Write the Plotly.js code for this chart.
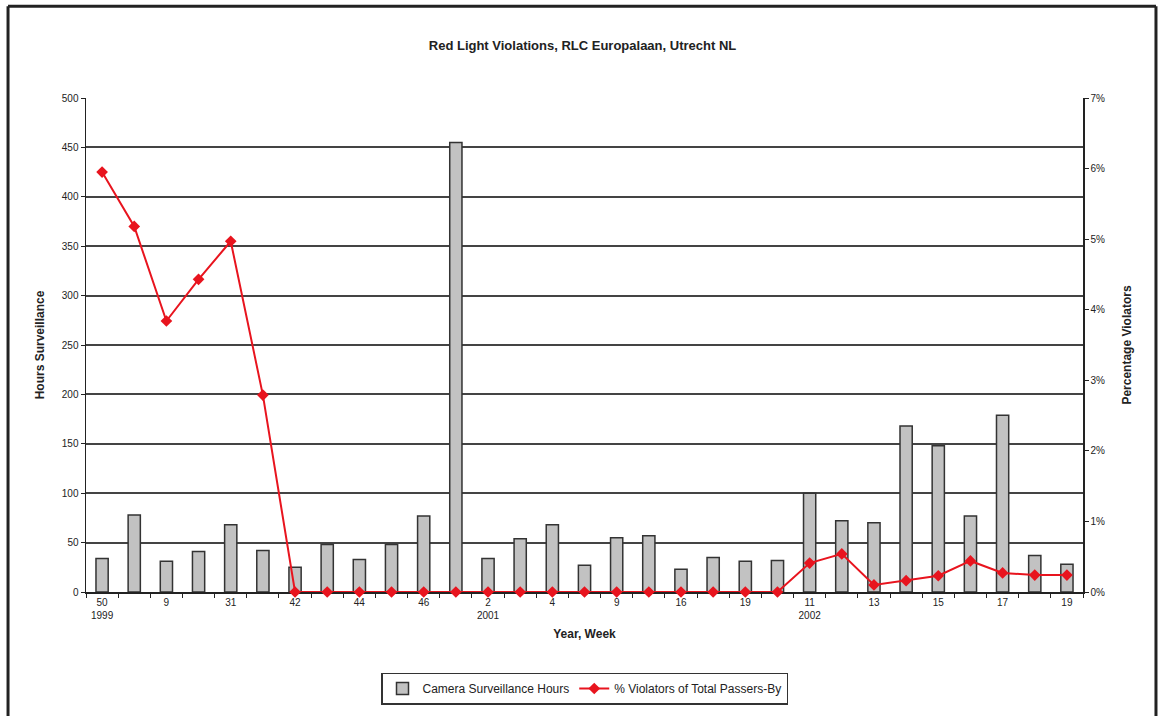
<!DOCTYPE html>
<html>
<head>
<meta charset="utf-8">
<script src="https://cdn.plot.ly/plotly-3.0.1.min.js"></script>
<style>html,body{margin:0;padding:0;background:#fff;}#chart{width:1165px;height:716px;}</style>
</head>
<body>
<div id="chart"></div>
<script>
// Category index (one per surveillance week)
const categories = [0,1,2,3,4,5,6,7,8,9,10,11,12,13,14,15,16,17,18,19,20,21,22,23,24,25,26,27,28,29,30];
// Camera surveillance hours
const hours = [34,78,31,41,68,42,25,48,33,48,77,455,34,54,68,27,55,57,23,35,31,32,100,72,70,168,148,77,179,37,28];
// % violators of total passers-by (fraction)
const violators = [0.0595,0.0518,0.0384,0.0443,0.0497,0.0279,0,0,0,0,0,0,0,0,0,0,0,0,0,0,0,0,0.0041,0.0054,0.0010,0.0016,0.0023,0.0044,0.0027,0.0024,0.0024];
// X tick labels (every other category)
const tickPositions = [0,2,4,6,8,10,12,14,16,18,20,22,24,26,28,30];
const weekLabels = ["50","9","31","42","44","46","2","4","9","16","19","11","13","15","17","19"];
const yearLabels = ["1999","","","","","","2001","","","","","2002","","","",""];

const tickText = weekLabels.map((w,i)=> yearLabels[i] ? w + "<br>" + yearLabels[i] : w);

const font = {family: "Liberation Sans, Arial, sans-serif", color: "#222"};

const traces = [
  {
    type: "bar",
    name: "Camera Surveillance Hours",
    x: categories,
    y: hours,
    width: 0.38,
    marker: {color: "#c2c2c2", line: {color: "#333", width: 1.5}},
    yaxis: "y"
  },
  {
    type: "scatter",
    mode: "lines+markers",
    name: "% Violators of Total Passers-By",
    x: categories,
    y: violators,
    yaxis: "y2",
    cliponaxis: false,
    line: {color: "#e8141e", width: 2},
    marker: {symbol: "diamond", size: 9, color: "#e8141e"}
  }
];

const layout = {
  width: 1165, height: 716,
  margin: {l: 86, r: 82, t: 98, b: 122},
  paper_bgcolor: "#fff", plot_bgcolor: "#fff",
  font: Object.assign({size: 10}, font),
  title: {text: "<b>Red Light Violations, RLC Europalaan, Utrecht NL</b>", x: 0.5, xanchor: "center", y: 0.937, yanchor: "middle", font: Object.assign({}, font, {size: 13})},
  showlegend: true,
  legend: {orientation: "h", x: 0.5, xanchor: "center", y: -0.163, yanchor: "top", bordercolor: "#333", borderwidth: 1.5, font: Object.assign({}, font, {size: 12}), tracegroupgap: 0},
  xaxis: {
    range: [-0.5, 30.5],
    tickmode: "array", tickvals: tickPositions, ticktext: tickText,
    ticks: "", showgrid: false, zeroline: false,
    showline: true, linecolor: "#222", linewidth: 1.5, layer: "below traces",
    tickfont: Object.assign({}, font, {size: 10}),
    minor: {tick0: 0.5, dtick: 1, ticks: "outside", ticklen: 4, tickcolor: "#222", showgrid: false},
    title: {text: "<b>Year, Week</b>", font: Object.assign({}, font, {size: 12}), standoff: 10}
  },
  yaxis: {
    range: [0, 500], dtick: 50, tick0: 0,
    showgrid: true, gridcolor: "#444", gridwidth: 2,
    zeroline: false, showline: true, linecolor: "#222", linewidth: 1.5, layer: "below traces",
    ticks: "outside", ticklen: 4, tickcolor: "#222",
    tickfont: Object.assign({}, font, {size: 10}),
    title: {text: "<b>Hours Surveillance</b>", font: Object.assign({}, font, {size: 12}), standoff: 14}
  },
  yaxis2: {
    overlaying: "y", side: "right",
    range: [0, 0.07], dtick: 0.01, tick0: 0, tickformat: ".0%",
    showgrid: false, zeroline: false, showline: true, linecolor: "#222", linewidth: 1.5,
    ticks: "outside", ticklen: 4, tickcolor: "#222",
    tickfont: Object.assign({}, font, {size: 10}),
    title: {text: "<b>Percentage Violators</b>", font: Object.assign({}, font, {size: 12}), standoff: 18}
  },
  shapes: [
    {type: "line", xref: "paper", yref: "paper", x0: -0.0782, x1: -0.0782, y0: 1.1855, y1: -0.26, line: {color: "#222", width: 3}},
    {type: "line", xref: "paper", yref: "paper", x0: -0.0782, x1: 1.0732, y0: 1.1855, y1: 1.1855, line: {color: "#222", width: 3}},
    {type: "line", xref: "paper", yref: "paper", x0: 1.0732, x1: 1.0732, y0: 1.1855, y1: -0.26, line: {color: "#222", width: 3}}
  ]
};

Plotly.newPlot("chart", traces, layout, {displayModeBar: false, staticPlot: true});
</script>
</body>
</html>
